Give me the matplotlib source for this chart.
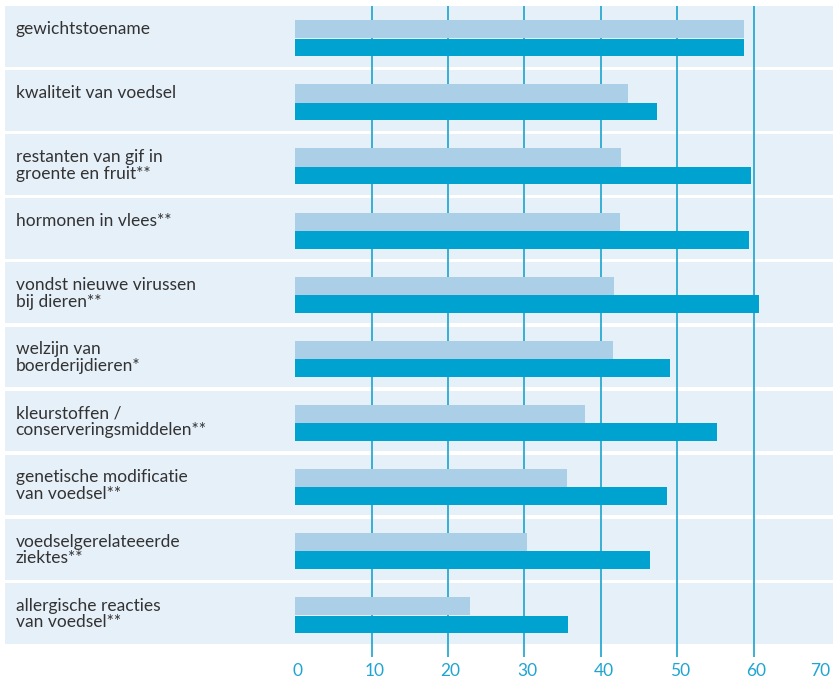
import matplotlib
matplotlib.use("Agg")
import matplotlib.pyplot as plt
from matplotlib.patches import Rectangle

categories = [
    "gewichtstoename",
    "kwaliteit van voedsel",
    "restanten van gif in\ngroente en fruit**",
    "hormonen in vlees**",
    "vondst nieuwe virussen\nbij dieren**",
    "welzijn van\nboerderijdieren*",
    "kleurstoffen /\nconserveringsmiddelen**",
    "genetische modificatie\nvan voedsel**",
    "voedselgerelateeerde\nziektes**",
    "allergische reacties\nvan voedsel**",
]
light_values = [58.8, 43.5, 42.6, 42.5, 41.7, 41.6, 38.0, 35.6, 30.3, 22.9]
dark_values = [58.7, 47.4, 59.7, 59.4, 60.7, 49.1, 55.2, 48.7, 46.5, 35.7]
x_ticks = [0, 10, 20, 30, 40, 50, 60, 70]
grid_lines = [10, 20, 30, 40, 50, 60]

panel_color = "#e6f0f9"
light_color = "#aacfe6"
dark_color = "#00a3cf"
grid_color = "#19a3cd"
tick_color = "#1fa5d0"
text_color = "#333333"

fig = plt.figure(figsize=(8.36, 6.8), dpi=100)
ax = fig.add_axes([0, 0, 1, 1])
ax.set_xlim(-38.64, 70.79)
ax.set_ylim(10.04, -0.567)
ax.axis("off")

n = len(categories)
for i in range(n):
    ax.add_patch(Rectangle((-38.0, i - 0.4735), 108.35, 0.947,
                           facecolor=panel_color, edgecolor="none", zorder=0))
    ax.text(-36.6, i - 0.245, categories[i], ha="left", va="top",
            fontsize=12.5, color=text_color, family="Lato", linespacing=1.05,
            zorder=5)

ax.vlines(grid_lines, -0.473, 9.68, color=grid_color, linewidth=1.2, zorder=1)

ys = list(range(n))
ax.barh([y - 0.109 for y in ys], light_values, height=0.285,
        color=light_color, zorder=2)
ax.barh([y + 0.172 for y in ys], dark_values, height=0.275,
        color=dark_color, zorder=2)

for t in x_ticks:
    ha = "right" if t == x_ticks[-1] else "center"
    xpos = t + 0.35 if t != x_ticks[-1] else t
    ax.text(xpos, 9.9, str(t), ha=ha, va="center", fontsize=12.5,
            color=tick_color, family="Lato")

fig.savefig("out.png", dpi=100)
